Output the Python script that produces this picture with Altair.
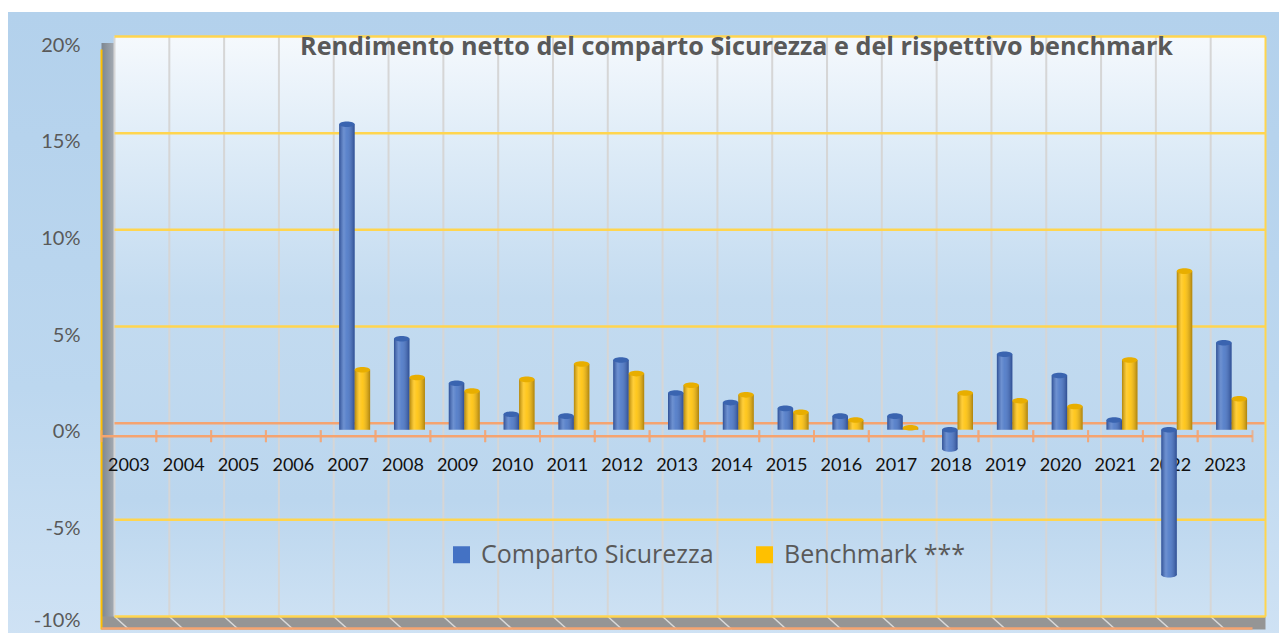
import altair as alt
import pandas as pd

# ---------------- data ----------------
years = [str(y) for y in range(2003, 2024)]
comparto = [None, None, None, None, 15.8, 4.7, 2.4, 0.8, 0.7, 3.6, 1.9, 1.4, 1.1, 0.7,
            0.7, -1.0, 3.9, 2.8, 0.5, -7.5, 4.5]
benchmark = [None, None, None, None, 3.1, 2.7, 2.0, 2.6, 3.4, 2.9, 2.3, 1.8, 0.9, 0.5,
             0.1, 1.9, 1.5, 1.2, 3.6, 8.2, 1.6]
series = ["Comparto Sicurezza", "Benchmark ***"]
colors = ["#4472C4", "#FFC000"]
cap_colors = ["#3A64B0", "#E8AE00"]
y_ticks = [-10, -5, 0, 5, 10, 15, 20]
grid_vals = [-10, -5, 5, 10, 15, 20]
title_text = "Rendimento netto del comparto Sicurezza e del rispettivo  benchmark"

# ---------------- geometry / style ----------------
W, H, D = 1151, 580, 6.5
FONT = "Lato"
GRAY = "#595959"
ORANGE = "#F5A470"
YELLOW = "#FFD54F"

rows = []
for i, yr in enumerate(years):
    for s, vals in zip(series, [comparto, benchmark]):
        if vals[i] is not None:
            rows.append({"year": yr, "series": s, "value": vals[i]})
bars_df = pd.DataFrame(rows)
years_df = pd.DataFrame({"year": years, "z": [0] * len(years)})
grid_df = pd.DataFrame({"g": grid_vals})
zero_df = pd.DataFrame({"z": [0]})
one_df = pd.DataFrame({"a": [0]})

xscale = alt.Scale(domain=years, paddingInner=0, paddingOuter=0)
yscale = alt.Scale(domain=[-10, 20], nice=False, zero=False)
yaxis = alt.Axis(values=y_ticks, labelExpr="datum.value + '%'", ticks=False, domain=False,
                 grid=False, labelFont=FONT, labelFontSize=20, labelColor=GRAY,
                 labelPadding=28,
                 labelOffset={"condition": {"test": "datum.value <= -10", "value": -3},
                              "value": 2},
                 title=None, zindex=1)


def yenc(f):
    return alt.Y(f"{f}:Q", scale=yscale, axis=yaxis, title=None)


def xenc(band=None):
    if band is None:
        return alt.X("year:N", scale=xscale, axis=None)
    return alt.X("year:N", scale=xscale, axis=None, bandPosition=band)


def vgrad(stops):
    return {"gradient": "linear", "x1": 0, "y1": 0, "x2": 0, "y2": 1,
            "stops": [{"offset": o, "color": c} for o, c in stops]}


def hgrad(stops):
    return {"gradient": "linear", "x1": 0, "y1": 0, "x2": 1, "y2": 0,
            "stops": [{"offset": o, "color": c} for o, c in stops]}


base1 = alt.Chart(one_df)

outer_bg = base1.mark_rect(fill=vgrad([(0, "#B3D1EC"), (0.6, "#BCD7EF"), (1, "#CFE2F4")])).encode(
    x=alt.value(-100), x2=alt.value(W + 25), y=alt.value(-31), y2=alt.value(H + 16))

back_wall = base1.mark_rect(fill=vgrad([(0, "#F5F9FD"), (0.2, "#DDEBF7"), (0.45, "#C3DBF0"),
                                        (0.8, "#BBD6EE"), (1, "#CDE1F3")])).encode(
    x=alt.value(D), x2=alt.value(W + D), y=alt.value(-D), y2=alt.value(H - D))

left_wall = base1.mark_rect(fill=hgrad([(0, "#7D8690"), (1, "#A5ACB4")])).encode(
    x=alt.value(-D), x2=alt.value(D), y=alt.value(0), y2=alt.value(H))

floor = base1.mark_rect(fill="#959595").encode(
    x=alt.value(-D), x2=alt.value(W + D), y=alt.value(H - D), y2=alt.value(H + D))

floor_lines = alt.Chart(years_df).mark_rule(color="#DADADA", strokeWidth=1.5, xOffset=D,
                                            x2Offset=-D).encode(
    x=xenc(0), x2=alt.X2("year:N"), y=alt.value(H - D), y2=alt.value(H + D))

vgrid = alt.Chart(years_df).mark_rule(color="#D6D6D6", strokeWidth=2, xOffset=D).encode(
    x=xenc(0), y=alt.value(-D), y2=alt.value(H - D))

hgrid = alt.Chart(grid_df).mark_rule(color=YELLOW, strokeWidth=2.5, yOffset=-D).encode(
    y=yenc("g"), x=alt.value(D), x2=alt.value(W + D))

back_zero = alt.Chart(zero_df).mark_rule(color=ORANGE, strokeWidth=2.5, yOffset=-D).encode(
    y=yenc("z"), x=alt.value(D), x2=alt.value(W + D))

right_edge = base1.mark_rule(color=YELLOW, strokeWidth=2).encode(
    x=alt.value(W + D), y=alt.value(-D), y2=alt.value(H - D))

left_edge = base1.mark_rule(color="#FFC000", strokeWidth=2).encode(
    x=alt.value(-D), y=alt.value(D), y2=alt.value(H + D))

front_bottom = base1.mark_rule(color=ORANGE, strokeWidth=2.5).encode(
    x=alt.value(-D), x2=alt.value(W - D), y=alt.value(H + D - 1))

front_zero = alt.Chart(zero_df).mark_rule(color=ORANGE, strokeWidth=2.5, yOffset=D).encode(
    y=yenc("z"), x=alt.value(-D), x2=alt.value(W - D))

ticks0 = alt.Chart(years_df).mark_tick(orient="vertical", color=ORANGE, thickness=2, size=12,
                                       xOffset=-D, yOffset=D).encode(x=xenc(0), y=yenc("z"))
ticks1 = alt.Chart(years_df).mark_tick(orient="vertical", color=ORANGE, thickness=2, size=12,
                                       xOffset=-D, yOffset=D).encode(x=xenc(1), y=yenc("z"))

year_labels = alt.Chart(years_df).mark_text(font=FONT, fontSize=18, color="#111111",
                                            dx=-D, dy=36, baseline="middle").encode(
    x=xenc(), y=yenc("z"), text="year:N")

title = base1.mark_text(text=title_text, font="Open Sans", fontSize=25.2, fontWeight="bold",
                        color=GRAY, align="center", baseline="middle").encode(
    x=alt.value(628.5), y=alt.value(4))

xoff = alt.XOffset("series:N", scale=alt.Scale(domain=series, paddingInner=0, paddingOuter=0.77))

bars = alt.Chart(bars_df).mark_bar().encode(
    x=xenc(), xOffset=xoff, y=yenc("value"),
    color=alt.Color("series:N", scale=alt.Scale(domain=series, range=colors),
                    legend=alt.Legend(orient="none", legendX=341, legendY=499,
                                      direction="horizontal", title=None, symbolType="square",
                                      symbolSize=289, symbolStrokeWidth=0, labelFont="Open Sans",
                                      labelFontSize=25, labelColor=GRAY, labelOffset=7,
                                      columnPadding=38, labelLimit=0)))

shade_fill = hgrad([(0, "rgba(0,0,40,0.30)"), (0.3, "rgba(255,255,255,0.22)"),
                    (0.5, "rgba(255,255,255,0.12)"), (1, "rgba(0,0,40,0.32)")])
shade = alt.Chart(bars_df).mark_bar(fill=shade_fill).encode(
    x=xenc(), xOffset=xoff, y=yenc("value"))

ELLIPSE = "M-1,0 A1,0.36 0 1,0 1,0 A1,0.36 0 1,0 -1,0 Z"

# rounded bottom for negative bars
bottoms = alt.Chart(bars_df).transform_filter("datum.value < 0").mark_point(
    shape=ELLIPSE, filled=True, size=240, opacity=1, strokeWidth=0).encode(
    x=xenc(), xOffset=xoff, y=yenc("value"),
    fill=alt.Fill("series:N", scale=alt.Scale(domain=series, range=colors), legend=None))
bottoms_shade = alt.Chart(bars_df).transform_filter("datum.value < 0").mark_point(
    shape=ELLIPSE, filled=True, size=240, opacity=1, strokeWidth=0, fill=shade_fill).encode(
    x=xenc(), xOffset=xoff, y=yenc("value"))

# elliptical top caps (at the upper end of each cylinder)
caps = alt.Chart(bars_df).transform_calculate(top="max(datum.value, 0)").mark_point(
    shape=ELLIPSE, filled=True, size=240, opacity=1, strokeWidth=0).encode(
    x=xenc(), xOffset=xoff, y=yenc("top"),
    fill=alt.Fill("series:N", scale=alt.Scale(domain=series, range=cap_colors), legend=None))

chart = alt.layer(
    outer_bg, back_wall, left_wall, floor, floor_lines, vgrid, hgrid, back_zero, right_edge,
    left_edge, front_bottom, title, year_labels, front_zero, ticks0, ticks1,
    bars, shade, bottoms, bottoms_shade, caps
).properties(
    width=W, height=H,
    padding={"left": 100, "top": 35, "right": 20, "bottom": 10},
    autosize=alt.AutoSizeParams(type="none"),
    background="white",
).resolve_scale(fill="independent").configure_view(stroke=None)

chart.save("out.html", embed_options={"renderer": "svg", "actions": False})
